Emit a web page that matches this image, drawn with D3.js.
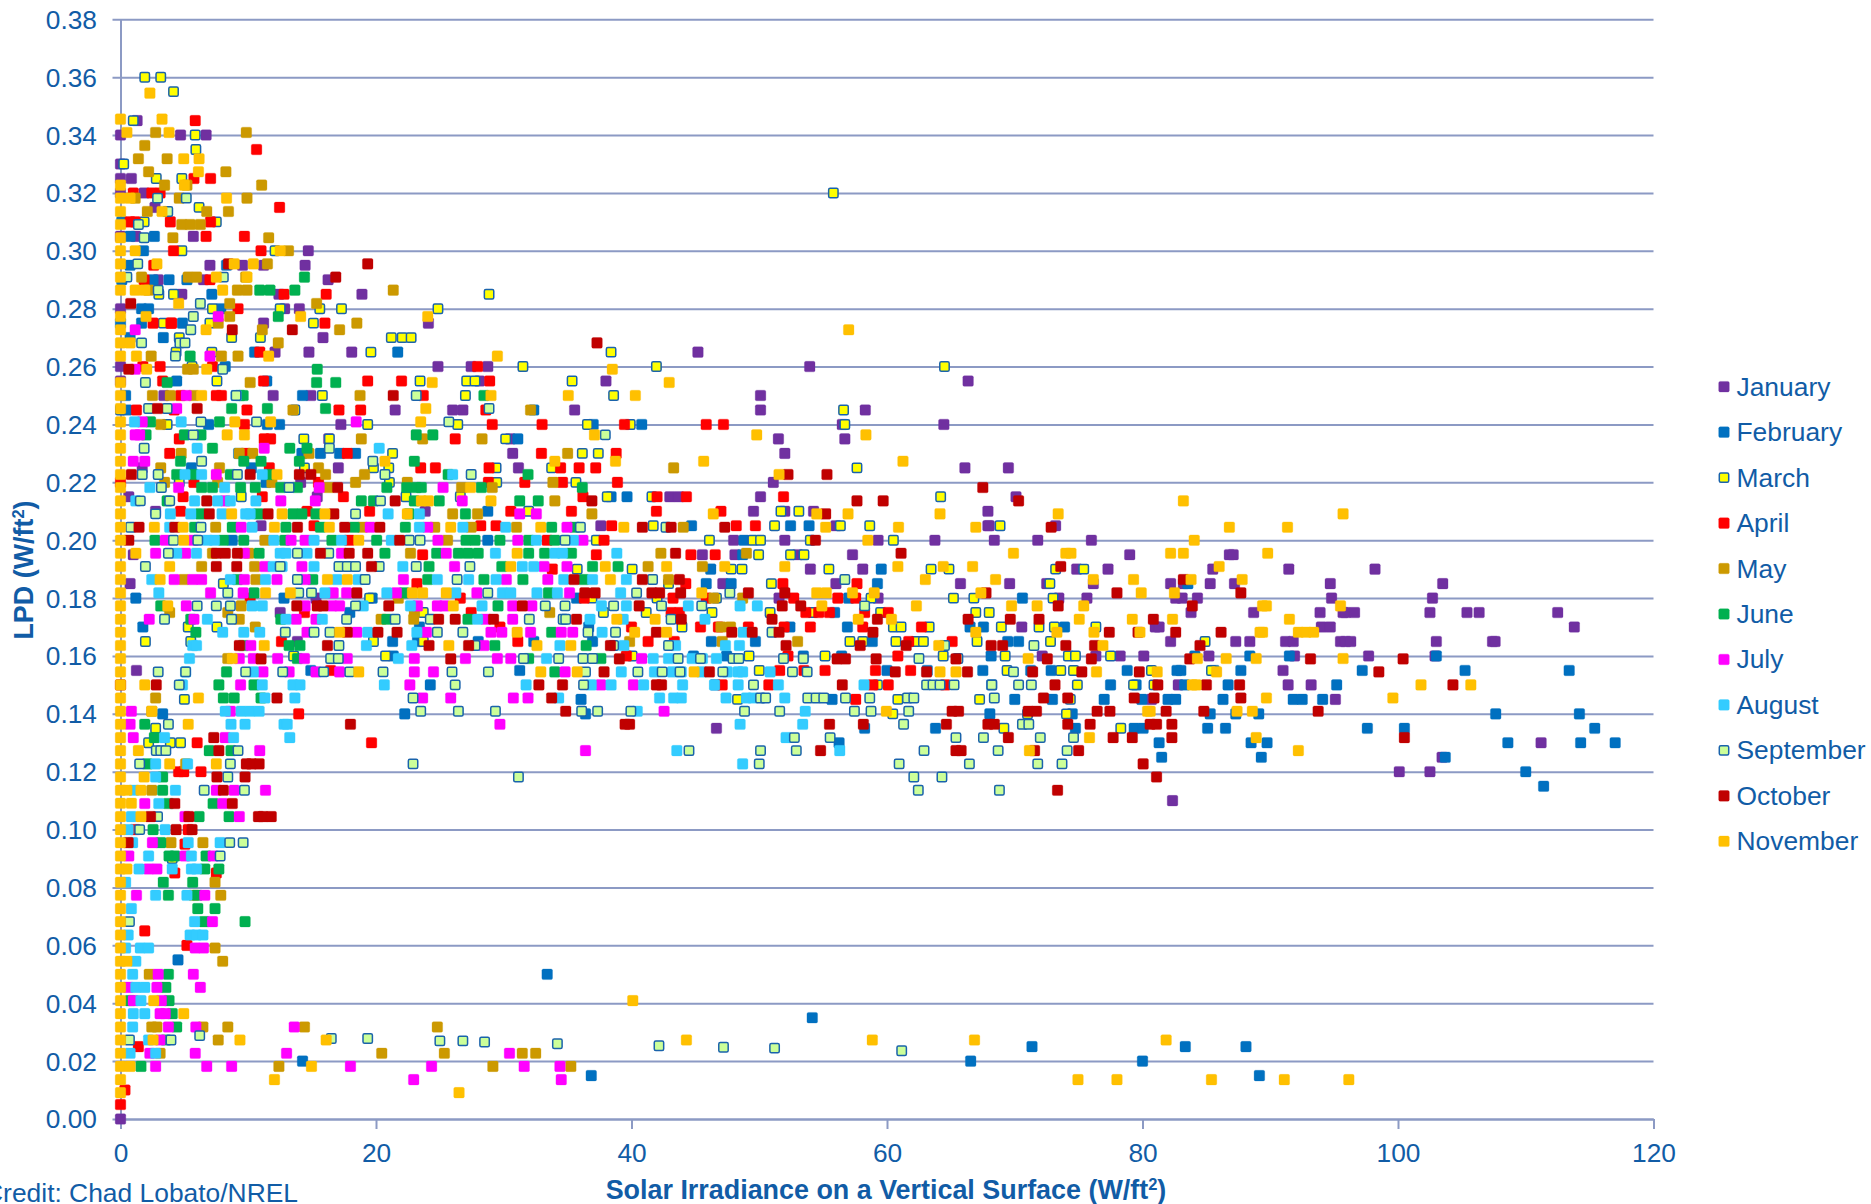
<!DOCTYPE html>
<html><head><meta charset="utf-8">
<script src="https://cdn.jsdelivr.net/npm/d3@7/dist/d3.min.js"></script>
<style>html,body{margin:0;padding:0;background:#fff;overflow:hidden}svg{display:block}text{font-family:"Liberation Sans",Arial,sans-serif;fill:#115ca6}</style>
</head><body><svg id="c" width="1871" height="1204"></svg>
<script>
const xTicks=[0,20,40,60,80,100,120];
const yTicks=[0,.02,.04,.06,.08,.1,.12,.14,.16,.18,.2,.22,.24,.26,.28,.3,.32,.34,.36,.38];
const months=["January","February","March","April","May","June","July","August","September","October","November"];
const fills=["#7030a0","#0070c0","#ffff00","#ff0000","#cc9900","#00b050","#ff00ff","#33ccff","#ccff99","#c00000","#ffc000"];
// each row: [LPD, [irradiance values at that LPD]]
const january=[[.345,[1.3]],[.34,[0,4.7,6.7]],[.33,[0]],[.325,[0,.85]],[.32,[0,1.85]],[.315,[2.7]],[.305,[0,1.2,5.7]],[.3,[14.7]],[.295,[7,9.55,11.2,14.45]],[.29,[2.95,6.5,16.25]],[.285,[4.8,12.4,18.9]],[.28,[0,12.85,14]],[.275,[11.2,24.1]],[.27,[15.85]],[.265,[12.1,14.75,18.1,45.2]],[.26,[0,24.85,27.45,28.75,53.95]],[.255,[0,28.1,38,66.35]],[.25,[3.4,11.95,14.9,50.1]],[.245,[21.5,26,26.8,35.55,50.1,58.3]],[.24,[17.25,56.5,64.45]],[.235,[16.3,30.5,51.5,56.7]],[.23,[30.7,52]],[.225,[1.7,17.05,31.15,66.1,69.5]],[.22,[14.1,51.1]],[.215,[.65,15.4,43,43.7,50.1,70.1]],[.21,[2.75,23.85,49.55,52,54.25,67.9]],[.205,[11,37.6,56,67.9,68,73.2]],[.2,[48,52,59.3,63.75,68.4,71.8,76]],[.195,[1,45.55,48.1,53,57.3,79,86.8,87.1]],[.19,[54,58.1,74.85,77.3,85.5,91.45,98.2]],[.185,[.75,47.15,56,65.75,69.6,72.5,76.15,82.2,83.2,85.3,87.2,94.7,103.5]],[.18,[15.3,51.55,59.3,73.45,75.65,82.6,83.1,84.3,94.8,102.7]],[.175,[12.5,83.8,88.7,93.9,95.7,95.9,96.6,102.5,105.4,106.35,112.5]],[.17,[70.55,81,81.3,94,94.7,113.8]],[.165,[13.85,82.2,87.3,88.4,91.2,91.8,95.5,95.9,96.3,103,107.4,107.6]],[.16,[72.15,76.35,78.25,80.1,85.2,91.9,97.7,102.9]],[.155,[1.25,91]],[.15,[82.8,91.4,93.2]],[.145,[80.7,95.1]],[.135,[46.65]],[.13,[111.2]],[.125,[103.45]],[.12,[100.1,102.5]],[.11,[82.35]],[0,[0]]];
const february=[[.31,[.1]],[.305,[.75,2.65]],[.3,[1.8]],[.295,[.75,8.3]],[.29,[.1,2.55,3.8,5.2]],[.285,[7.15]],[.28,[1.65,2.2,7.85]],[.275,[0,1.65,4.85]],[.27,[.75,3.35]],[.265,[10.5,21.7]],[.26,[8.2]],[.255,[4.4,11.45]],[.25,[.4,14.25]],[.245,[.5,32.35]],[.24,[6.9,11.5,12.45,37,40.8]],[.235,[31.1]],[.23,[9.25,14.2,15.65,17.15,18.4]],[.225,[5.55,10.25]],[.22,[11.4]],[.215,[38.4,39.65]],[.21,[28.75]],[.205,[44.7,52.45,53.9]],[.2,[8.75,28.75,48.8]],[.195,[48.7]],[.19,[46.2,59.55]],[.185,[45.85,47.8,59.25,83.55]],[.18,[1.2,12.8,19.7,35.7,57,70.6]],[.175,[17.95,55.9]],[.17,[1.75,23.4,36.65,52.4,56.9,66.5,67.55,73.9]],[.165,[21.3,23.25,28,32.35,36.95,46.25,49.7,58.85,69.45,70.3]],[.16,[21.35,44.85,47.45,53.45,56.45,68.15,84.1,88.4,91.5,103]],[.155,[14.9,31.25,60,63.15,67.5,71.25,72.85,78.8,82.7,83,85.6,87.7,97.2,105.25,113.4]],[.15,[24.25,46.55,68.2,77.5,79.5,83.3,86.7,95.2]],[.145,[36.05,55.7,70,72.95,77,79.95,82,82.6,86.3,91.8,92.5,94.1]],[.14,[3.3,22.25,36.4,68.05,74.5,85.3,87.3,89.1,107.65,114.2]],[.135,[58.25,63.8,74.75,79.35,80.05,85.1,86.5,97.6,100.5,115.4]],[.13,[56.25,81.3,88.5,89.75,108.6,114.3,117]],[.125,[81.5,89.3,103.7]],[.12,[110]],[.115,[111.4]],[.055,[4.5]],[.05,[33.4]],[.035,[54.15]],[.025,[71.35,83.35,88.1]],[.02,[14.25,66.55,80]],[.015,[36.85,89.15]]];
const march=[[.36,[1.9,3.15]],[.355,[4.15]],[.345,[1]],[.34,[5.85]],[.335,[5.9]],[.33,[.25]],[.325,[2.8,4.8]],[.32,[55.8]],[.315,[6.15]],[.31,[1.85,7.5]],[.3,[4.8,12.1]],[.285,[3,4.15,28.85]],[.28,[7.2,12.5,15.6,17.3,24.85]],[.275,[3.35,7,15.1]],[.27,[4.6,8.7,10.95,21.2,22.05,22.75]],[.265,[4.35,7.15,19.6,38.4]],[.26,[5.6,31.5,41.95,64.5]],[.255,[7.55,23.45,27.1,27.75,35.35]],[.25,[15.8,27,38.6]],[.245,[0,13.65,56.6]],[.24,[3.65,19.35,26.4,36.55,39.9,56.7]],[.235,[14.35,16.35,30.15]],[.23,[21.3,36.15,37.4]],[.225,[14.4,19.8,21,29.4,33.75,57.65]],[.22,[4.6,21.05,29.45,35.65]],[.215,[9.45,22.35,26.6,38.1,41.6,64.2]],[.21,[31.95,51.7,53.1]],[.205,[41.7,51.2,56.35,58.65,68.85]],[.2,[37.25,46.1,49.5,50.1,54,60.5]],[.195,[49.95,52.45,53.5]],[.19,[35.75,40.05,47.8,48.65,55.45,63.45,64.85,73.2,75.4]],[.185,[8.05,42.9,50.95,72.75]],[.18,[19.5,36.9,42,46.65,58.75,65.2,66.8,73]],[.175,[23.7,37.8,41.15,46.3,50.85,54.2,59.5,66.95,68]],[.17,[5.3,7.55,43.95,60.5,61.1,63.3,68.95,71.9,73.1,76.35]],[.165,[1.95,5.5,19.8,23.7,57.1,58.1,60.7,62.25,62.85,67.05,72.8,84.9]],[.16,[13.55,20.75,40.05,49.2,55.15,64.4,69.25,74.2,74.75,77.5]],[.155,[50,69.4,73.6,74.6,80.7,85.4]],[.15,[59.25,74.9,79.3,80.9]],[.145,[5,48.3,60.85,67.25,74.35]],[.14,[60.45,71,74.05]],[.135,[2.75,69.15,78.3]],[.13,[2.2,3.9,4.7]],[.09,[4.05]]];
const april=[[.345,[5.85]],[.335,[10.65]],[.325,[5.75,7.05]],[.32,[1,2.45,3.1]],[.315,[12.45]],[.31,[.75,1.15,3.9,7.05]],[.305,[6.7,9.7]],[.3,[4.15,11]],[.295,[2.6]],[.29,[1.85,7]],[.285,[12.8,16.1]],[.28,[9.2]],[.275,[2.55,3.95,4,16]],[.265,[10.9]],[.26,[1.75,3.1,7.2,27.95]],[.255,[3.3,11.2,19.35,22,28.9]],[.25,[4.7,7.5,7.9,23.7]],[.245,[1.25,4.2,9.9,17.1,18.8,28.6]],[.24,[9.7,29.1,33,39.45,45.85,47.2]],[.235,[4.6,11.25,11.75,26.2]],[.23,[3.85,9.8,17.75,32.95,38.8]],[.225,[11.65,23.5,24.65,28.85,34.45,35.9,37.2]],[.22,[0,5.75,15.5,28.8,31.65,34.6,38.9]],[.215,[4.9,11.1,17.45,36.2,42,44.3,51.9]],[.21,[4.7,14.6,19.5,30.55,35.3,41.95,47]],[.205,[15.15,28.2,29.4,38.45,48.2,49.7]],[.2,[17.9,33.4,37.85]],[.195,[23.65,37.25,44.65,46.55]],[.19,[33.8]],[.185,[23.2,44.25,51.85,57.65]],[.18,[10.15,26.6,36.3,43.25,45.85,52.7,56.15,57.55]],[.175,[14.4,27.45,43.1,43.75,53.65,54.65,55.5,58.25,60.1]],[.17,[29.7,40,45.4,46.8,49.15,51.95,54,58.1,62.7]],[.165,[12.6,31.1,41.3,43.35,61.7,65.1]],[.16,[39.6,52.25,60.85]],[.155,[16.45,51.6,53.5,55.15,59.1,61.85]],[.15,[47.1,50.75,58.9,60.1,64.55]],[.145,[57.55]],[.14,[13.95]],[.13,[6,19.65]],[.12,[4.55,4.95,6.3]],[.1,[1.15,5.3]],[.095,[5.05]],[.085,[4.25,7.5]],[.065,[1.9]],[.06,[5.2]],[.025,[1.4]],[.01,[.35]],[.005,[0]]];
const may=[[.3409,[2.75,9.85]],[.3364,[1.9]],[.3318,[1.4,3.65]],[.3273,[2.2,8.25]],[.3227,[3.45,5.2,11.05]],[.3182,[1.15,4.6,9.9]],[.3136,[2.1,6.75,8.45]],[.3091,[4.8,5.45,6.25]],[.3045,[4.1,11.6]],[.3,[13.15]],[.2955,[11.5]],[.2909,[1.65,5.3,5.95,9.8]],[.2864,[2.2,9.15,9.9,21.35]],[.2818,[8.55,15.35]],[.2773,[8.55]],[.275,[7.65,18.5]],[.2727,[11.1,17.15]],[.2682,[12.35]],[.2636,[2.4,7.9,9.2]],[.2591,[5.25,5.7]],[.2545,[10.15]],[.25,[2.5,3.9,5.7,18.75]],[.245,[13.5,32.1]],[.24,[3.15]],[.235,[18.85,23.65,28.3]],[.23,[4.75,9.3,10.35,14.75,35]],[.225,[3.15,7.75,15.5,43.3]],[.2227,[16.05,19.1]],[.22,[3.45,7.6,11.85,18.4,22.45,33.85]],[.2182,[16.3,26.7,29.1]],[.2136,[34]],[.2091,[26,27.95,36.9]],[.2045,[7.45,18.95,24.6,27.45,31,44.05]],[.2,[11.3,25.6]],[.1955,[7.2,10.05,22.7,42.3,49]],[.1909,[6.35,10.5,41.3,45.55]],[.1864,[4.95,10.6,42.9]],[.18,[21.75,46.45,48.7]],[.1773,[9.45]],[.175,[3.85,8.4,23,33.6]],[.1727,[9.3,20.4,22.95]],[.17,[10.55,47,47.75]],[.165,[39.85,47.1,53]],[.1591,[8.4]],[.1455,[2.75]],[.1409,[2.45]],[.1227,[5.1]],[.1136,[2.45]],[.0955,[3.95,6.45]],[.0818,[7.4]],[.0773,[5.75,7.85]],[.0591,[7.4]],[.0545,[8]],[.05,[2.25]],[.0318,[2.45,2.85,6.45,8.4,14.4,24.8]],[.0273,[7.65]],[.0227,[3.1,20.45,25.35,31.45,32.5]],[.0182,[12.4,29.15,35.25]]];
const june=[[.2909,[14.4]],[.2864,[10.9,11.7,13.65]],[.2773,[12.35]],[.2636,[5.45]],[.2591,[15.4]],[.2545,[3.65,15.35,16.85]],[.25,[9.35,9.6,28.45]],[.2455,[8.7,11.5,16.05]],[.2409,[2.35,7.75]],[.2364,[2,5,6.3,23.15,24.45]],[.2318,[7.2,13.25,14.6]],[.2273,[4.7,9.65,11,14,23]],[.2227,[4.4,5.7,8.6,11.65,25.65,31.9]],[.2182,[6.35,7.2,9.4,10.55,12.55,13.85,20.85,22.4,23.15,23.55,28.25,36.15]],[.2136,[3.65,18.85,19.8,23,24.95,31.25,32.7]],[.2091,[6.25,10.8,13.5,14.2,15.3,22.6,27]],[.2045,[5.8,8.75,12.95,15.65,18.3,22.3,33.75,35.55]],[.2,[2.7,8.05,9.65,12.85,16.55,20.05,27.05,27.75,29.7,31.95,34]],[.1955,[10.85,20.7,24.75,26.45,27.2,28,31.95,33.2,35.3]],[.1909,[24.15,29.85,36.95,38.95]],[.1864,[9.15,15.05,24.05,28.45,31.5,36.25]],[.1818,[10.45,22.2,33.5]],[.1773,[3.15,29.55]],[.1727,[5.5,12.55,20.85,27.2]],[.1682,[5.9,33.75]],[.1636,[9.6,13.2,14.05,29.3,36.45]],[.1591,[13.85,31.95,37.6]],[.1545,[8.3,34]],[.15,[7.7,10.45]],[.1455,[8.05,8.9,11]],[.1364,[1.9]],[.1318,[2.65]],[.1273,[6.95,8.65]],[.1227,[2.1]],[.1182,[3.3]],[.1136,[3.3]],[.109,[3.75,7.25]],[.1045,[6.15,8.5]],[.1,[2.55]],[.0955,[3.15]],[.0909,[3.8,4.25,6.7]],[.0864,[6.6,7.7]],[.0818,[3.35,5.65]],[.0773,[3.75,6]],[.0727,[6.05,7.4]],[.0682,[6.55,9.75]],[.05,[3.75]],[.0455,[3.55]],[.0409,[.75,3.8]],[.0364,[4.05]],[.0318,[4.4]],[.0273,[3.55]],[.0182,[1.6]]];
const july=[[.2773,[7.65]],[.2727,[1.15]],[.2636,[7]],[.2591,[1.15]],[.25,[5.15]],[.2455,[4.4]],[.2409,[1.7,18.45]],[.2364,[1.15,1.5]],[.2318,[11.25]],[.2273,[1,1.9]],[.2227,[7.5]],[.2182,[4.55,15.55,25.25]],[.2136,[8.2,12.55,15.25,26.75]],[.2091,[31.25,32.55]],[.2045,[9.45,19.55,24.05,34.95]],[.2,[3.5,5.7,13.35,14.45,24.85,31.1,36.2]],[.1955,[2.75,5.1,9.7,17.3,25.5]],[.1909,[11.3,14.2,26.15,33.15,34.95]],[.1864,[4.2,5.65,6.35,9.7,12.25,14.45,22.15,30.2,33.45]],[.1818,[7.05,9.6,16.65,17.7,21.6,27.9,35.15]],[.1773,[5.15,14.45,16.55,17.15,23.25,24.8,25.35,30.7,32.2]],[.1727,[2.25,5.75,13.75,15.3,28.6,30.7]],[.1682,[14.6,18.5,23.95,29,29.85,32.1,34.5,35.4]],[.1636,[10.2,28.45]],[.1591,[9.3,10.4,12.3,14.4,17.75,23,27,29.5,30.55,40.8]],[.1545,[11.15,13.2,15.3,17.15,23,24.5,34.8]],[.15,[9.4,22.65,37.6,40.15]],[.1455,[23.65,25.85,30.75,31.9]],[.1409,[.85,8.6,42.55]],[.1364,[.75,29.7]],[.1318,[1,8.2]],[.1273,[10.9,36.4]],[.1136,[7.5,8.9,11.35]],[.109,[1.9,8]],[.1045,[5.05,9.3]],[.0955,[2.5]],[.0909,[.65,5.05,7.25]],[.0864,[2.2,2.85]],[.0773,[1.25,6.6]],[.0682,[7.2]],[.0591,[5.85,6.5]],[.05,[2.95,5.7]],[.0455,[.6,2.85,6.25]],[.0409,[1,3.2]],[.0364,[3.1,3.5]],[.0318,[3.75,5.9,13.6]],[.0273,[3.1]],[.0227,[2.3,5.85,13,30.45]],[.0182,[2.75,6.75,8.7,18,24.35,31.6,34.4]],[.0136,[22.95,34.5]]];
const august=[[.25,[9.05]],[.2409,[1.1,4.75]],[.2318,[6,20.25]],[.2227,[5.05,6.35,11.1,26]],[.2182,[2.3,8.15]],[.2136,[1.2,5.8,7.6,8.6,10.6]],[.2091,[3.9,5.5,7.95,9.8,10.15,20.95,23.4]],[.2045,[3.85,10.3,23.4,26.8,30.15]],[.2,[6.8,7.35,12,15.15,17.3,21.2,32.55,35.45]],[.1955,[4.4,5.95,12.5,12.95,14.6,29.35,34,34.6,38.85]],[.1909,[11.95,12.65,15.15,22.1,31.45,32.35]],[.1864,[2.45,8.6,11.35,16.95,18.6,24.8,27.25,29.4,34.7,36.95,39.6]],[.1818,[3,16,20.85,26.25,29.9,30.55,32.6,34.2,39.15]],[.1773,[10.3,11.1,19,22.7,28.3,37.65,39.6,44.45,48.5,49.85]],[.1727,[6.8,12.95,15.8,27.95,36.75,39.35,45.75]],[.1682,[8,9.65,10.9,19.35,23.2,37.7,48.75]],[.1636,[5.65,5.95,19.25,22.8,34.4,39.4,43.45,47.35,48.45]],[.1591,[5.4,21.75,33.35,41.7,42.9,44.75,45.55,46.65]],[.1545,[5.1,10.4,39.2,41.8,43.2,43.9,45.5,47.5,48.35,48.7,50.85]],[.15,[4.85,11.1,13.5,14.05,20.65,31.75,36.85,38.4,40.95,44,46.5,48.35,51.5,58.2]],[.1455,[11.3,13.65,34.3,42.2,43.3,43.9,47.4,49,49.5,52]],[.1409,[8.2,9.45,10.15,10.85,40.45,53.6]],[.1364,[8.65,9.75,12.8,13.05,48.5,53.4]],[.1318,[3.45,8.85,13.25,52.1]],[.1273,[43.55,56.3]],[.1227,[2.75,5.25,48.7]],[.1182,[2.75]],[.1136,[1.05,4.3]],[.109,[3]],[.1045,[.85]],[.1,[.6,3.5]],[.0955,[.95,5.3,7.8]],[.0909,[2.2,5.55]],[.0864,[1.45,4.05,5.55,5.95]],[.0818,[.4]],[.0773,[2.75,5.2]],[.0727,[.85]],[.0682,[5.8]],[.0636,[.6,5.45,5.95,6.45]],[.0591,[.4,1.55,2.2]],[.0545,[1.2]],[.05,[.95]],[.0455,[1.2,1.9]],[.0409,[1.6]],[.0364,[1,1.9]],[.0318,[.95]],[.0273,[2.2]],[.0227,[.75,2.75]]];
const september=[[.3182,[2.9,5.15]],[.3136,[3.7]],[.3091,[1.4]],[.3045,[1.85]],[.2955,[1.35]],[.2909,[.5,8.05]],[.2864,[2.95]],[.2818,[6.25]],[.2773,[5.7]],[.2727,[5.5]],[.2682,[1.65,4.65,5.05]],[.2636,[4.3]],[.2591,[8]],[.2545,[1.95]],[.25,[9.05,23.15]],[.2455,[2.2,3.65,28.85]],[.2409,[6.3,10.65,25.7]],[.2364,[5.7,37.95]],[.2318,[1.85,16.35]],[.2273,[6.35,19.75]],[.2227,[1.7,2.95,9.15,20.7,27.45]],[.2182,[3.2,13.2]],[.2136,[1.55,3.85,20.35]],[.2091,[2.75,18.4]],[.2045,[.8,6.3,36,42.7]],[.2,[4.15,6.05,22.6,23.45,34.8]],[.1955,[3.75,13.85,16.3]],[.1909,[1.95,12.5,17.1,17.75,18.4,20.25,23.15,27.35]],[.1864,[13.85,19.15,26.35,41.65,56.7]],[.1818,[8.4,13.95,14.95,28.75,40.4,47.7]],[.1773,[6,7.5,8.6,18.4,33.25,34.8,38.6,42.35,45.5,58.25]],[.1727,[3.45,8.7,17.7,21.5,24.25,32,34.65,34.85,43.1]],[.1682,[12.9,15.15,16.4,24.8,26.8,36.6,38.75,51]],[.1636,[17.1,27.75,38.6,42.9,64.5,71.5]],[.1591,[16.45,17.05,31.55,34.3,36.2,36.95,43.65,45.4,47.95,48.4,51.9,53.45,62.5,65.55]],[.1545,[2.95,5.1,9.8,12.7,15.9,17.95,20.55,25.95,28.8,36.4,40.5,42.4,43.8,47.15,52.6,53.75,69.9]],[.15,[4.6,26.2,36.25,49.55,63.1,63.6,64.15,65.25,68.2,70.3,71.3]],[.1455,[22.9,50.1,50.5,53.8,54.45,55.05,56.75,58.65,61.6,62.1,68.4]],[.1409,[23.5,26.45,29.35,36.1,37.35,39.95,48.85,51.6,57.45,58.75,61.7]],[.1364,[3.75,61.3,70.6,71.1]],[.1318,[52.75,55.55,65.4,67.55,72,74.6]],[.1273,[2.8,3.15,3.55,9.2,44.5,50.1,52.9,62.9,68.7,74.1]],[.1227,[1.5,8.6,22.9,50,60.95,66.45,71.8,73.7]],[.1182,[8.4,31.15,62.1,64.3]],[.1136,[6.55,9.7,62.45,68.8]],[.1045,[2.9]],[.1,[1.5]],[.0955,[8.55,9.6]],[.0909,[7.8]],[.0682,[.7]],[.0288,[6.2]],[.0278,[16.5,19.35]],[.0273,[.7,3.95]],[.027,[25,26.8]],[.0266,[28.5]],[.026,[34.2]],[.0253,[42.15]],[.0248,[47.2]],[.0245,[51.2]],[.0236,[61.15]]];
const october=[[.2955,[8.45,19.35]],[.2909,[16.85]],[.2818,[.8]],[.2727,[8.75,13.45]],[.2682,[37.3]],[.2591,[.65]],[.25,[21.35]],[.2455,[2.9,6]],[.2227,[.85,10.15,14,14.9,52.25,55.3]],[.2182,[17,67.5]],[.2136,[6.75,21.5,36.9,57.65,59.7,70.3]],[.2091,[6.95,11.55,16.7,55.2]],[.2045,[1.45,4.25,13.85,17.55,20.3,40.85,43.1,47.3,72.85]],[.2,[.65,21.85,54.4]],[.1955,[7.5,8.2,9.15,15.65,17.9,19.35,43.45,61.1]],[.1909,[7.5,9.1,19.65,73.6]],[.1864,[35.5,40.85,43.75,83.2]],[.1818,[18.5,36.35,37.15,41.6,42.2,43.85,49.15,52,67.75,78,87.7]],[.1773,[13.8,15.4,15.85,21,31.45,40.6,51.8,53.25,73.4,83.9]],[.1727,[24.9,26.2,29.2,35.7,43.9,51,59.25,66.35,69.65,71.9,80.85]],[.1682,[17.75,20.15,21.65,41.95,47.85,49.45,51.55,58.9,77.4,79.65,82.6,86.15]],[.1636,[9.3,16.2,24.15,27.25,38.35,52.1,57.9,61.5,68.15,69.05,74,76.25,84.5]],[.159,[11,25.85,39.05,56.1,56.75,59.15,65.4,72.55,76,83.7,93.15,100.4]],[.1545,[37.85,46.1,60.65,63.1,66.3,71.4,75.25,79.75,98.5]],[.15,[0,2.8,32.75,34.6,41.95,42.35,56.5,73.15,81.2,85,87.6,104.3]],[.1455,[12.25,33.75,72.25,74.15,79.35,80.9,87.7]],[.1409,[34.85,65.1,65.6,71.05,71.7,76.45,77.45,81.85,84.8,93.75]],[.1364,[18,39.5,39.85,55.5,58.15,64.65,67.9,68.4,74.15,75.9,80.6,81.1,82.3]],[.1318,[7.3,69.5,77.7,79.2,82.3,100.5]],[.1273,[7.7,54.8,65.4,65.8,71.55,75]],[.1227,[9.85,10.25,10.85,80.05]],[.1182,[7.55,9.75,81.1]],[.1136,[8.05,73.35]],[.109,[4.25,8.75]],[.1045,[2.35,5.35,10.8,11.15,11.8]],[.1,[4.35,5.6]],[.0955,[.6]]];
const november=[[.3545,[2.3]],[.3455,[0,3.25]],[.3409,[.5,3.8]],[.3318,[4.95,6.15]],[.3273,[6.1]],[.3227,[0,5]],[.3182,[0,.75,8.3]],[.3136,[0,3.25]],[.3091,[0]],[.3045,[0]],[.3,[0,1.15,12.5]],[.2955,[0,2.85,8.9,10.4]],[.2909,[0,7.5,9.9]],[.2864,[0,1.15,1.9,8]],[.2818,[4.55]],[.2773,[0,2,14.1,24.05]],[.2727,[0,6.7,57]],[.2682,[0,.75]],[.2636,[0,1.25,11.6,29.5]],[.2591,[2.05,6.75,38.5]],[.2545,[0,24.4,42.95]],[.25,[0,6.35,29,35.05,40.3]],[.2455,[0,23.9]],[.2409,[0,8.95,11.75,23.5]],[.2364,[0,8.35,9.7,37.1,49.8,58.35]],[.2318,[0]],[.2273,[0,20.7,34,38.75,45.65,61.25]],[.2227,[0,12.25,51.55]],[.2182,[0,27.4]],[.2136,[0,23.55,24.1,29,83.2]],[.2091,[0,8.7,12.65,16,22.45,46.4,54.5,56.95,64.15,73.4,95.7]],[.2045,[0,2.65,4.9,12.05,16.35,25.85,32.9,39.4,55.2,60.9,66.95,86.8,91.35]],[.2,[0,4.95,18.65,58.5,84.05]],[.1955,[0,1.2,31.05,69.9,74,74.4,82.2,83.2,89.8]],[.1909,[0,3.85,30.55,37.95,42.75,47.3,52,60.85,64.4,66.7,86]],[.1864,[0,3.1,16.2,17.75,38.35,63,68.5,76.15,79.3,83.8,87.8]],[.1818,[0,11.35,13.3,22.85,23.65,25.5,45.5,54.5,55.25,57.3,59,67.35,79.9,82.5]],[.1773,[0,3.7,26.05,54.9,62.3,69.75,71.75,75.4,89.4,89.7,95.5]],[.1727,[0,38.85,41.85,57.75,60.35,75.05,79.2,82.35,91.5]],[.1682,[0,17.15,31.05,40.25,42.75,66.95,73.3,76.2,79.8,89.2,89.4,92.2,92.8,93.4]],[.1636,[0,11.25,25.7,32.6,35.25,64.05,76.9]],[.1591,[0,8.75,71.05,84.3,86.55,88.9,95.7]],[.1545,[0,18.65,32.9,35.75,44.9,64.15,65.4,76.4,81.15,85.8]],[.15,[0,1.9,83.9,84.2,101.8,105.7]],[.1455,[0,6.1,89.7,99.6]],[.1409,[0,2.45,59.95,80.4,80.6,87.4,88.6]],[.1364,[0,5.3]],[.1318,[0,75.85,88.9]],[.1273,[0,1.4,71.15,92.2]],[.1227,[0,3.85,7.5]],[.1182,[0,1.85]],[.1136,[0,.5,1.6]],[.1091,[0,.85]],[.1045,[0,1.6]],[.1,[0]],[.0955,[0]],[.0909,[0]],[.0864,[0,.5]],[.0818,[0]],[.0773,[0]],[.0727,[0]],[.0682,[0]],[.0636,[0]],[.0591,[0]],[.0545,[0,.5]],[.05,[0]],[.0455,[0]],[.0409,[0,2.6,40.1]],[.0364,[0,4.95]],[.0318,[0]],[.0273,[0,2.55,9.35,16.1,44.3,58.85,66.85,81.85]],[.0227,[0]],[.0182,[0,.75,14.95]],[.0136,[0,12.05,74.95,78,85.4,91.1,96.15]],[.0091,[0,26.5]]];
const allSeries=[january,february,march,april,may,june,july,august,september,october,november];
const gridCol="#8c9ac4", txt="#115ca6";
const svg=d3.select("#c");
const x=d3.scaleLinear().domain([0,120]).range([120.5,1653.5]);
const y=d3.scaleLinear().domain([0,.38]).range([1119,19.3]);
const gy=svg.append("g").attr("transform","translate(120.5,0)")
 .call(d3.axisLeft(y).tickValues(yTicks).tickFormat(d3.format(".2f")).tickSizeInner(-(1653.5-120.5)).tickSizeOuter(0).tickPadding(16));
gy.selectAll(".tick line").attr("x1",-8).attr("stroke",gridCol).attr("stroke-width",2);
gy.select(".domain").attr("stroke",gridCol).attr("stroke-width",2);
gy.selectAll("text").attr("font-size",26.3).attr("x",-23.5).attr("dy","0.34em").style("font-family",'"Liberation Sans",Arial,sans-serif').style("fill",txt);
const gx=svg.append("g").attr("transform","translate(0,1119)")
 .call(d3.axisBottom(x).tickValues(xTicks).tickFormat(d3.format("d")).tickSizeInner(10).tickSizeOuter(0).tickPadding(14));
gx.selectAll(".tick line").attr("stroke",gridCol).attr("stroke-width",2);
gx.select(".domain").attr("stroke",gridCol).attr("stroke-width",2);
gx.selectAll("text").attr("font-size",26.3).attr("y",24).style("font-family",'"Liberation Sans",Arial,sans-serif').style("fill",txt);
const S=10.6;
function mark(sel,i){
  const hollow=(i===2||i===8);
  sel.attr("fill",fills[i]).attr("rx",1.5)
   .attr("width",hollow?S-1.2:S).attr("height",hollow?S-1.2:S)
   .attr("stroke",hollow?"#1a63ab":fills[i]).attr("stroke-opacity",hollow?1:.28).attr("stroke-width",hollow?1.5:1);
}
allSeries.forEach((rows,i)=>{
  const pts=rows.flatMap(([v,xs])=>xs.map(h=>({h,v})));
  const hollow=(i===2||i===8), off=(hollow?S-1.2:S)/2;
  svg.append("g").selectAll("rect").data(pts).join("rect")
   .attr("x",d=>x(d.h)-off).attr("y",d=>y(d.v)-off).call(mark,i);
});
months.forEach((m,i)=>{
  const cy=386.7+i*45.46, hollow=(i===2||i===8), off=(hollow?S-1.2:S)/2;
  svg.append("rect").attr("x",1724-off).attr("y",cy-off).call(mark,i);
  svg.append("text").attr("x",1736.5).attr("y",cy+9).attr("font-size",26.4).text(m);
});
const xt=svg.append("text").attr("x",886).attr("y",1199).attr("text-anchor","middle").attr("font-size",26.9).attr("font-weight","bold");
xt.append("tspan").text("Solar Irradiance on a Vertical Surface (W/ft");
xt.append("tspan").attr("font-size",16.5).attr("dy",-9).text("2");
xt.append("tspan").attr("dy",9).text(")");
const yt=svg.append("text").attr("transform","translate(33,570) rotate(-90)").attr("text-anchor","middle").attr("font-size",26.9).attr("font-weight","bold");
yt.append("tspan").text("LPD (W/ft");
yt.append("tspan").attr("font-size",16.5).attr("dy",-9).text("2");
yt.append("tspan").attr("dy",9).text(")");
svg.append("text").attr("x",298).attr("y",1202).attr("text-anchor","end").attr("font-size",26.4).text("Credit: Chad Lobato/NREL");
</script></body></html>
